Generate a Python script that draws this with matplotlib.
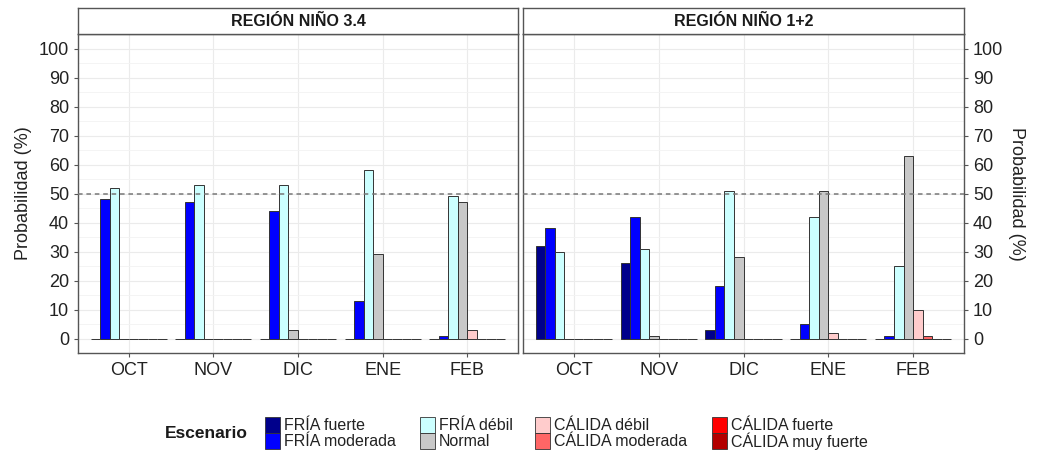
import matplotlib.pyplot as plt
import numpy as np
from matplotlib.patches import Rectangle

plt.rcParams['font.family'] = ['Liberation Sans', 'DejaVu Sans']

months = ["OCT", "NOV", "DIC", "ENE", "FEB"]
scenarios = ["FRÍA fuerte", "FRÍA moderada", "FRÍA débil", "Normal",
             "CÁLIDA débil", "CÁLIDA moderada", "CÁLIDA fuerte", "CÁLIDA muy fuerte"]
colors = ["#00008B", "#0000FF", "#CCFFFF", "#C8C8C8",
          "#FFCCCC", "#FF6666", "#FF0000", "#B30000"]
regions = ["REGIÓN NIÑO 3.4", "REGIÓN NIÑO 1+2"]

# rows = scenario, cols = month
nino34 = [
    [0, 0, 0, 0, 0],      # FRÍA fuerte
    [48, 47, 44, 13, 1],  # FRÍA moderada
    [52, 53, 53, 58, 49], # FRÍA débil
    [0, 0, 3, 29, 47],    # Normal
    [0, 0, 0, 0, 3],      # CÁLIDA débil
    [0, 0, 0, 0, 0],      # CÁLIDA moderada
    [0, 0, 0, 0, 0],      # CÁLIDA fuerte
    [0, 0, 0, 0, 0],      # CÁLIDA muy fuerte
]
nino12 = [
    [32, 26, 3, 0, 0],
    [38, 42, 18, 5, 1],
    [30, 31, 51, 42, 25],
    [0, 1, 28, 51, 63],
    [0, 0, 0, 2, 10],
    [0, 0, 0, 0, 1],
    [0, 0, 0, 0, 0],
    [0, 0, 0, 0, 0],
]
panels = [nino34, nino12]

W, H = 1040, 451
fig = plt.figure(figsize=(W / 100, H / 100), dpi=100)


def fx(px):
    return px / W


def fy(py):
    return 1 - py / H


frame_col = "#555555"
x = np.arange(len(months))
n = len(scenarios)
width = 0.9 / n

boxes = [(78, 518), (523, 964)]
top, strip_top, bottom = 34, 8, 353

for i, (data, (l, r)) in enumerate(zip(panels, boxes)):
    ax = fig.add_axes([fx(l), fy(bottom), fx(r - l), (bottom - top) / H])
    ax.set_xlim(-0.6, len(months) - 0.4)
    ax.set_ylim(-5, 105)
    ax.set_yticks(np.arange(0, 101, 10))
    ax.set_yticks(np.arange(-5, 106, 5), minor=True)
    ax.set_xticks(x, months)
    ax.grid(True, which='major', color='#EBEBEB', lw=0.8)
    ax.grid(True, which='minor', axis='y', color='#F3F3F3', lw=0.6)
    ax.set_axisbelow(True)
    for k, vals in enumerate(data):
        ax.bar(x - 0.45 + width * (k + 0.5), vals, width, color=colors[k],
               edgecolor='#333333', linewidth=0.7, zorder=3)
    ax.axhline(50, color='#777777', ls=(0, (3, 2.5)), lw=1.1, zorder=4)
    for s in ax.spines.values():
        s.set_color(frame_col)
        s.set_linewidth(1.0)
    ax.tick_params(which='minor', length=0)
    ax.tick_params(which='major', length=3, color=frame_col, labelsize=13,
                   labelcolor='#222222')
    if i == 1:
        ax.yaxis.tick_right()
        ax.yaxis.set_label_position('right')
        ax.set_ylabel("Probabilidad (%)", fontsize=13, rotation=270,
                      labelpad=16, color='#222222')
    else:
        ax.set_ylabel("Probabilidad (%)", fontsize=13, labelpad=5,
                      color='#222222')
    # strip
    sax = fig.add_axes([fx(l), fy(top), fx(r - l), (top - strip_top) / H])
    sax.set_xticks([])
    sax.set_yticks([])
    for s in sax.spines.values():
        s.set_color(frame_col)
        s.set_linewidth(1.0)
    sax.text(0.5, 0.5, regions[i], ha='center', va='center', fontsize=11.5,
             fontweight='bold', color='#1a1a1a', transform=sax.transAxes)

# legend
fig.text(fx(165), fy(433), "Escenario", fontsize=12.5, fontweight='bold',
         ha='left', va='center', color='#1a1a1a')
key_x = [265, 420, 535, 712]
row_y = [417, 433]
kw, kh = 15, 16
for k, name in enumerate(scenarios):
    col, row = divmod(k, 2)
    kx, ky = key_x[col], row_y[row]
    fig.patches.append(Rectangle((fx(kx), fy(ky + kh)), fx(kw), kh / H,
                                 transform=fig.transFigure, facecolor=colors[k],
                                 edgecolor='#333333', lw=0.6))
    fig.text(fx(kx + kw + 4), fy(ky + kh / 2), name, fontsize=11.5,
             ha='left', va='center', color='#222222')

fig.savefig("out.png", dpi=100)
